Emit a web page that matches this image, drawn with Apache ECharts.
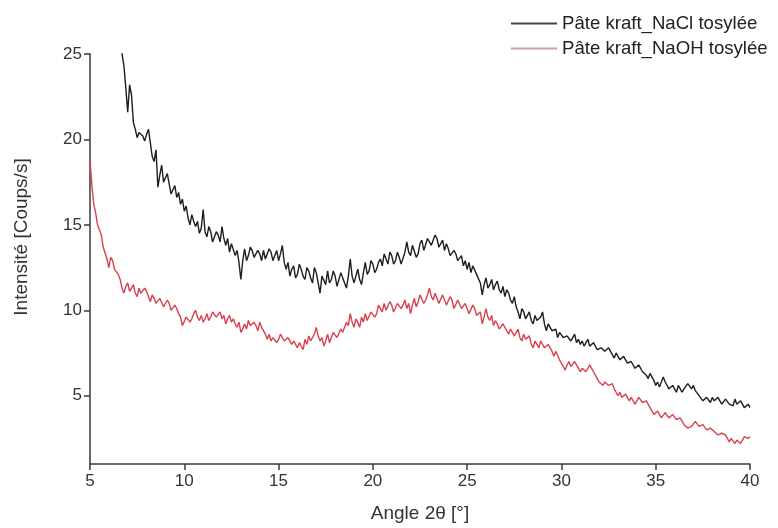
<!DOCTYPE html>
<html>
<head>
<meta charset="utf-8">
<script src="https://cdn.jsdelivr.net/npm/echarts@6/dist/echarts.min.js"></script>
<style>
html,body{margin:0;padding:0;background:#fff;}
#chart{width:778px;height:528px;}
</style>
</head>
<body>
<div id="chart"></div>
<script>
// Angle 2θ sampling positions (degrees)
var angles = [
 5.0,5.1,5.2,5.3,5.4,5.5,5.6,5.7,5.8,5.9,
 6.0,6.1,6.2,6.3,6.4,6.5,6.6,6.7,6.8,6.9,
 7.0,7.1,7.2,7.3,7.4,7.5,7.6,7.7,7.8,7.9,
 8.0,8.1,8.2,8.3,8.4,8.5,8.6,8.7,8.8,8.9,
 9.0,9.1,9.2,9.3,9.4,9.5,9.6,9.7,9.8,9.9,
 10.0,10.1,10.2,10.3,10.4,10.5,10.6,10.7,10.8,10.9,
 11.0,11.1,11.2,11.3,11.4,11.5,11.6,11.7,11.8,11.9,
 12.0,12.1,12.2,12.3,12.4,12.5,12.6,12.7,12.8,12.9,
 13.0,13.1,13.2,13.3,13.4,13.5,13.6,13.7,13.8,13.9,
 14.0,14.1,14.2,14.3,14.4,14.5,14.6,14.7,14.8,14.9,
 15.0,15.1,15.2,15.3,15.4,15.5,15.6,15.7,15.8,15.9,
 16.0,16.1,16.2,16.3,16.4,16.5,16.6,16.7,16.8,16.9,
 17.0,17.1,17.2,17.3,17.4,17.5,17.6,17.7,17.8,17.9,
 18.0,18.1,18.2,18.3,18.4,18.5,18.6,18.7,18.8,18.9,
 19.0,19.1,19.2,19.3,19.4,19.5,19.6,19.7,19.8,19.9,
 20.0,20.1,20.2,20.3,20.4,20.5,20.6,20.7,20.8,20.9,
 21.0,21.1,21.2,21.3,21.4,21.5,21.6,21.7,21.8,21.9,
 22.0,22.1,22.2,22.3,22.4,22.5,22.6,22.7,22.8,22.9,
 23.0,23.1,23.2,23.3,23.4,23.5,23.6,23.7,23.8,23.9,
 24.0,24.1,24.2,24.3,24.4,24.5,24.6,24.7,24.8,24.9,
 25.0,25.1,25.2,25.3,25.4,25.5,25.6,25.7,25.8,25.9,
 26.0,26.1,26.2,26.3,26.4,26.5,26.6,26.7,26.8,26.9,
 27.0,27.1,27.2,27.3,27.4,27.5,27.6,27.7,27.8,27.9,
 28.0,28.1,28.2,28.3,28.4,28.5,28.6,28.7,28.8,28.9,
 29.0,29.1,29.2,29.3,29.4,29.5,29.6,29.7,29.8,29.9,
 30.0,30.1,30.2,30.3,30.4,30.5,30.6,30.7,30.8,30.9,
 31.0,31.1,31.2,31.3,31.4,31.5,31.6,31.7,31.8,31.9,
 32.0,32.1,32.2,32.3,32.4,32.5,32.6,32.7,32.8,32.9,
 33.0,33.1,33.2,33.3,33.4,33.5,33.6,33.7,33.8,33.9,
 34.0,34.1,34.2,34.3,34.4,34.5,34.6,34.7,34.8,34.9,
 35.0,35.1,35.2,35.3,35.4,35.5,35.6,35.7,35.8,35.9,
 36.0,36.1,36.2,36.3,36.4,36.5,36.6,36.7,36.8,36.9,
 37.0,37.1,37.2,37.3,37.4,37.5,37.6,37.7,37.8,37.9,
 38.0,38.1,38.2,38.3,38.4,38.5,38.6,38.7,38.8,38.9,
 39.0,39.1,39.2,39.3,39.4,39.5,39.6,39.7,39.8,39.9,
 40.0
];

// Pâte kraft_NaCl tosylée (counts/s)
var nacl = [
 null,null,null,null,null,null,null,null,null,null,
 null,null,null,null,null,null,25.6,25.0,24.3,23.0,
 21.6,23.2,22.6,21.0,20.6,20.1,20.4,20.5,20.2,19.9,
 20.3,20.6,19.8,19.0,18.7,19.4,17.2,17.9,18.5,17.5,
 17.6,18.0,17.4,16.8,16.9,17.3,16.6,16.9,16.2,16.5,
 15.8,16.1,15.4,15.0,15.6,15.2,14.9,15.2,14.5,14.8,
 15.9,14.6,14.3,14.9,14.6,14.0,14.1,14.6,14.4,14.0,
 14.9,14.2,13.8,14.2,13.4,13.9,13.8,13.2,13.5,12.8,
 11.8,12.9,13.6,12.9,13.2,13.7,13.5,13.1,13.0,13.5,
 13.3,12.9,13.5,13.0,13.1,13.6,13.4,12.9,13.2,13.5,
 12.9,13.3,13.8,12.8,12.4,12.8,12.0,12.4,12.6,11.9,
 12.1,12.7,12.4,12.0,11.8,12.5,12.3,11.9,11.6,12.5,
 12.2,11.6,11.0,12.0,11.9,11.5,12.3,11.6,11.8,12.3,
 12.0,11.4,11.5,12.2,12.1,11.6,11.3,12.0,13.0,12.0,
 11.6,12.0,12.4,11.8,11.5,12.2,12.8,12.1,12.3,12.9,
 12.7,12.2,12.4,12.8,13.0,12.6,13.3,13.0,12.7,13.4,
 13.2,12.7,12.9,13.4,13.1,12.7,12.8,13.4,14.0,13.4,
 13.2,13.8,13.7,13.1,13.3,13.9,14.1,13.5,13.6,14.2,
 14.3,13.8,13.7,14.4,14.2,13.7,13.8,14.1,13.5,13.9,
 13.6,13.2,13.1,13.5,13.3,12.9,12.9,13.2,12.6,12.9,
 12.4,12.8,12.2,12.6,12.5,12.1,12.0,11.6,10.9,11.5,
 11.9,11.3,11.5,11.8,11.2,11.5,11.7,11.2,11.0,11.4,
 10.8,11.2,11.0,10.6,10.4,10.8,10.2,9.9,9.5,10.1,
 9.9,9.5,9.6,9.9,9.4,9.2,9.7,9.4,9.3,9.6,
 9.9,9.2,8.8,9.2,9.0,8.8,8.7,8.9,8.4,8.7,
 8.6,8.4,8.3,8.5,8.6,8.2,8.4,8.6,8.1,8.3,
 8.0,8.2,7.9,8.1,8.3,7.9,7.8,8.1,8.0,7.7,
 7.6,7.8,7.9,7.6,7.5,7.8,7.7,7.4,7.2,7.5,
 7.3,7.1,7.0,7.3,7.1,6.9,6.8,7.0,6.9,6.6,
 6.5,6.8,6.7,6.4,6.4,6.2,6.0,6.3,6.2,5.9,
 5.6,5.8,5.5,5.8,6.1,5.8,5.6,5.4,5.3,5.6,
 5.4,5.2,5.6,5.4,5.2,5.4,5.5,5.7,5.8,5.4,
 5.6,5.3,5.2,5.0,4.9,4.7,4.6,4.9,4.8,4.6,
 4.9,4.7,4.6,4.9,4.8,4.5,4.5,4.8,4.7,4.5,
 4.6,4.4,4.8,4.5,4.5,4.7,4.6,4.3,4.4,4.5,
 4.3
];

// Pâte kraft_NaOH tosylée (counts/s)
var naoh = [
 18.8,17.3,16.2,15.7,15.0,14.9,14.4,13.7,13.6,13.0,
 12.5,13.1,12.9,12.4,12.3,12.1,11.8,11.3,11.0,11.4,
 11.6,11.1,11.3,11.5,11.0,10.8,11.3,11.0,10.9,11.3,
 11.1,10.8,10.5,10.9,10.7,10.4,10.3,10.7,10.6,10.2,
 10.2,10.6,10.4,10.0,10.0,10.3,10.1,9.8,9.6,9.1,
 9.2,9.6,9.7,9.3,9.5,9.8,10.0,9.6,9.4,9.7,
 9.3,9.5,9.8,9.4,9.6,9.9,10.0,9.6,9.7,9.9,
 9.5,9.7,9.2,9.5,9.7,9.3,9.5,9.2,9.0,9.3,
 8.7,8.9,9.2,8.9,9.4,9.1,9.0,9.3,9.1,8.8,
 9.3,9.0,8.9,8.6,8.3,8.6,8.2,8.4,8.5,8.1,
 8.3,8.6,8.4,8.2,8.1,8.4,8.4,8.0,8.2,8.0,
 7.8,8.1,7.9,7.7,8.3,8.0,8.5,8.2,8.1,8.6,
 9.0,8.5,8.2,8.4,7.9,8.2,8.6,8.1,8.4,8.7,
 8.8,8.4,8.5,8.9,8.7,9.0,9.3,9.1,9.8,9.3,
 9.0,9.5,9.3,9.0,9.6,9.3,9.8,9.4,9.5,9.9,
 10.0,9.6,9.8,10.3,10.2,9.9,10.4,10.0,10.1,10.5,
 10.3,9.9,10.0,10.4,10.5,10.1,10.3,10.6,10.1,10.4,
 9.8,10.3,10.7,10.2,10.5,10.9,11.0,10.4,10.6,10.9,
 11.3,10.8,10.6,11.0,10.9,10.4,10.5,10.9,10.8,10.3,
 10.4,10.8,10.6,10.1,10.2,10.6,10.5,10.1,10.0,10.4,
 10.3,9.8,9.9,10.3,10.1,9.7,9.6,9.9,9.2,9.6,
 10.1,9.6,9.4,9.7,9.1,9.4,9.2,8.9,8.8,9.2,
 9.1,8.8,8.6,8.9,8.9,8.5,8.7,8.9,8.4,8.2,
 8.6,8.3,8.2,8.5,8.0,7.8,8.2,8.0,7.8,8.2,
 8.1,7.8,7.7,8.0,7.9,7.6,7.3,7.6,7.5,7.1,
 7.0,6.7,6.5,6.8,7.0,6.7,6.8,7.0,6.9,6.6,
 6.4,6.6,6.7,6.4,6.5,6.8,6.6,6.4,6.2,6.0,
 5.8,5.9,5.6,5.8,5.9,5.6,5.5,5.7,5.4,5.2,
 5.0,5.2,4.9,4.8,5.1,4.9,4.7,4.9,4.8,4.5,
 4.6,4.9,4.8,4.6,4.5,4.7,4.6,4.3,4.1,3.9,
 3.8,4.1,4.0,3.7,3.8,4.0,3.9,3.7,3.6,3.9,
 3.8,3.6,3.5,3.7,3.6,3.3,3.2,3.1,3.0,3.2,
 3.3,3.5,3.4,3.2,3.1,3.3,3.2,3.0,2.9,3.1,
 3.0,2.9,2.8,2.7,2.6,2.8,2.9,2.7,2.6,2.3,
 2.5,2.4,2.2,2.4,2.5,2.2,2.3,2.6,2.7,2.5,
 2.6
];

var xTicks = [5, 10, 15, 20, 25, 30, 35, 40];
var yTicks = [5, 10, 15, 20, 25];
var seriesNames = ['Pâte kraft_NaCl tosylée', 'Pâte kraft_NaOH tosylée'];

function pairs(ys) {
  var out = [];
  for (var i = 0; i < angles.length; i++) out.push([angles[i], ys[i]]);
  return out;
}

var FONT = '"Liberation Sans", Arial, sans-serif';
var chart = echarts.init(document.getElementById('chart'), null, {renderer: 'canvas'});
chart.setOption({
  animation: false,
  backgroundColor: '#ffffff',
  textStyle: {fontFamily: FONT},
  grid: {left: 90, right: 28, top: 54, bottom: 64, containLabel: false},
  legend: {
    orient: 'vertical',
    left: 506,
    top: 9,
    itemGap: 6,
    itemWidth: 46,
    itemHeight: 2,
    icon: 'rect',
    textStyle: {fontFamily: FONT, fontSize: 18.6, color: '#222'},
    data: [
      {name: seriesNames[0], itemStyle: {color: '#444'}},
      {name: seriesNames[1], itemStyle: {color: '#c9a0a0'}}
    ]
  },
  xAxis: {
    type: 'value',
    min: 5,
    max: 40,
    interval: 5,
    name: 'Angle 2θ [°]',
    nameLocation: 'middle',
    nameGap: 40,
    nameTextStyle: {fontFamily: FONT, fontSize: 19, color: '#333'},
    splitLine: {show: false},
    axisLine: {lineStyle: {color: '#3a3a3a', width: 1.5}},
    axisTick: {show: true, length: 6, lineStyle: {color: '#3a3a3a', width: 1.5}, customValues: xTicks},
    axisLabel: {fontFamily: FONT, fontSize: 17, color: '#333', margin: 9, customValues: xTicks}
  },
  yAxis: {
    type: 'value',
    min: 1,
    max: 25,
    splitLine: {show: false},
    axisLine: {show: true, lineStyle: {color: '#3a3a3a', width: 1.5}},
    axisTick: {show: true, length: 6, lineStyle: {color: '#3a3a3a', width: 1.5}, customValues: yTicks},
    axisLabel: {fontFamily: FONT, fontSize: 17, color: '#333', margin: 8, customValues: yTicks}
  },
  graphic: [{
    type: 'text',
    x: 22,
    y: 237,
    rotation: Math.PI / 2,
    style: {
      text: 'Intensité [Coups/s]',
      font: '19px "Liberation Sans", Arial, sans-serif',
      fill: '#333',
      textAlign: 'center',
      textVerticalAlign: 'middle'
    }
  }],
  series: [
    {
      name: seriesNames[0],
      type: 'line',
      data: pairs(nacl),
      showSymbol: false,
      clip: true,
      connectNulls: false,
      lineStyle: {color: '#1e1e1e', width: 1.4},
      itemStyle: {color: '#444'},
      z: 3
    },
    {
      name: seriesNames[1],
      type: 'line',
      data: pairs(naoh),
      showSymbol: false,
      clip: true,
      lineStyle: {color: '#d8424f', width: 1.4},
      itemStyle: {color: '#c9a0a0'},
      z: 2
    }
  ]
});
</script>
</body>
</html>
